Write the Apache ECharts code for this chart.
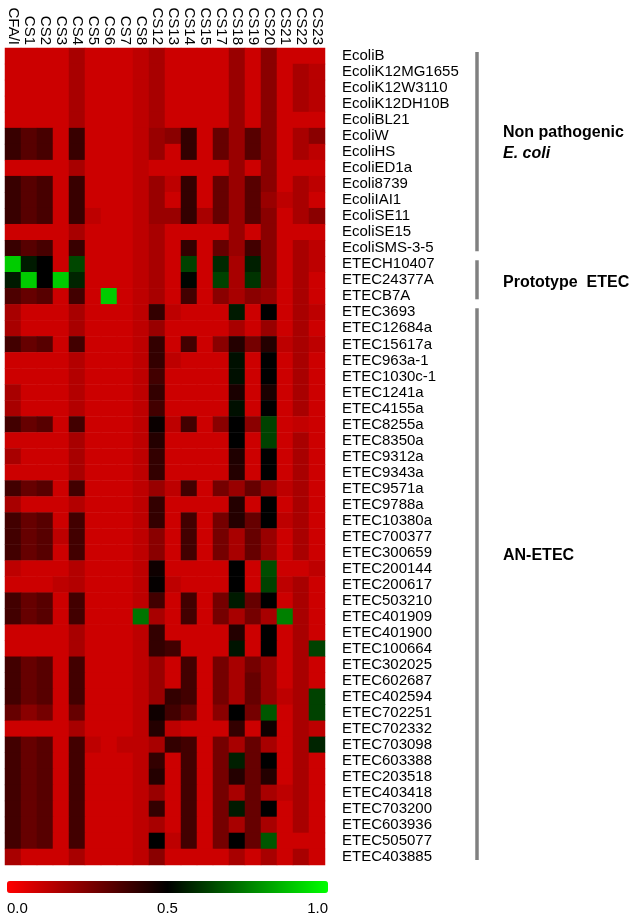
<!DOCTYPE html>
<html>
<head>
<meta charset="utf-8">
<script src="https://cdn.jsdelivr.net/npm/echarts@6/dist/echarts.min.js"></script>
<style>
  html, body { margin: 0; padding: 0; background: #fff; }
  #main { width: 638px; height: 917px; }
</style>
</head>
<body>
<div id="main"></div>
<script>
// colonisation factor columns
var factors = ['CFA/I', 'CS1', 'CS2', 'CS3', 'CS4', 'CS5', 'CS6', 'CS7', 'CS8', 'CS12',
  'CS13', 'CS14', 'CS15', 'CS17', 'CS18', 'CS19', 'CS20', 'CS21', 'CS22', 'CS23'];

var strains = ['EcoliB', 'EcoliK12MG1655', 'EcoliK12W3110', 'EcoliK12DH10B', 'EcoliBL21',
  'EcoliW', 'EcoliHS', 'EcoliED1a', 'Ecoli8739', 'EcoliIAI1', 'EcoliSE11', 'EcoliSE15',
  'EcoliSMS-3-5', 'ETECH10407', 'ETEC24377A', 'ETECB7A', 'ETEC3693', 'ETEC12684a',
  'ETEC15617a', 'ETEC963a-1', 'ETEC1030c-1', 'ETEC1241a', 'ETEC4155a', 'ETEC8255a',
  'ETEC8350a', 'ETEC9312a', 'ETEC9343a', 'ETEC9571a', 'ETEC9788a', 'ETEC10380a',
  'ETEC700377', 'ETEC300659', 'ETEC200144', 'ETEC200617', 'ETEC503210', 'ETEC401909',
  'ETEC401900', 'ETEC100664', 'ETEC302025', 'ETEC602687', 'ETEC402594', 'ETEC702251',
  'ETEC702332', 'ETEC703098', 'ETEC603388', 'ETEC203518', 'ETEC403418', 'ETEC703200',
  'ETEC603936', 'ETEC505077', 'ETEC403885'];

// one row per strain, one value per factor (0 = red, 0.5 = black, 1 = green)
var scores = [
  [.1, .1, .1, .1, .17, .1, .1, .1, .13, .17, .1, .1, .1, .1, .2, .1, .23, .1, .1, .1],
  [.1, .1, .1, .1, .17, .1, .1, .1, .13, .17, .1, .1, .1, .1, .2, .1, .23, .1, .17, .14],
  [.1, .1, .1, .1, .17, .1, .1, .1, .13, .17, .1, .1, .1, .1, .2, .1, .23, .1, .17, .14],
  [.1, .1, .1, .1, .17, .1, .1, .1, .13, .17, .1, .1, .1, .1, .2, .1, .23, .1, .17, .14],
  [.1, .1, .1, .1, .17, .1, .1, .1, .13, .17, .1, .1, .1, .1, .2, .1, .23, .1, .1, .1],
  [.39, .33, .36, .1, .39, .1, .1, .1, .13, .2, .23, .4, .1, .3, .2, .33, .23, .1, .17, .23],
  [.39, .33, .36, .1, .39, .1, .1, .1, .13, .2, .1, .4, .1, .3, .2, .33, .23, .1, .17, .13],
  [.1, .1, .1, .1, .17, .1, .1, .1, .13, .1, .1, .1, .1, .1, .2, .1, .23, .1, .1, .1],
  [.39, .33, .36, .1, .39, .1, .1, .1, .13, .2, .13, .4, .1, .3, .2, .33, .23, .1, .17, .13],
  [.39, .33, .36, .1, .39, .1, .1, .1, .13, .2, .1, .4, .1, .3, .2, .33, .2, .13, .17, .1],
  [.39, .33, .36, .1, .39, .13, .1, .1, .13, .2, .2, .4, .17, .3, .2, .33, .23, .1, .17, .23],
  [.1, .1, .1, .1, .17, .1, .1, .1, .13, .17, .1, .1, .1, .1, .2, .1, .23, .1, .1, .1],
  [.39, .33, .36, .1, .39, .1, .1, .1, .13, .17, .1, .4, .1, .3, .2, .37, .23, .1, .17, .13],
  [.9, .55, .5, .1, .64, .1, .1, .1, .13, .17, .1, .63, .1, .58, .17, .56, .23, .1, .17, .13],
  [.55, .9, .5, .9, .57, .1, .1, .1, .13, .17, .1, .51, .1, .63, .17, .6, .23, .1, .17, .1],
  [.35, .3, .33, .1, .37, .1, .9, .1, .13, .17, .1, .37, .1, .23, .17, .23, .2, .1, .17, .1],
  [.17, .1, .1, .1, .17, .1, .1, .1, .13, .4, .13, .1, .1, .1, .55, .1, .5, .1, .17, .13],
  [.17, .1, .1, .1, .17, .1, .1, .1, .13, .2, .1, .1, .1, .1, .17, .1, .2, .1, .17, .1],
  [.37, .3, .33, .1, .37, .1, .1, .1, .13, .4, .1, .37, .1, .23, .43, .27, .43, .13, .17, .13],
  [.1, .1, .1, .1, .15, .1, .1, .1, .13, .4, .13, .1, .1, .1, .53, .1, .5, .1, .17, .1],
  [.1, .1, .1, .1, .15, .1, .1, .1, .13, .37, .1, .1, .1, .1, .53, .1, .5, .1, .17, .1],
  [.17, .1, .1, .1, .15, .1, .1, .1, .13, .4, .1, .1, .1, .1, .45, .1, .45, .1, .17, .1],
  [.17, .1, .1, .1, .15, .1, .1, .1, .13, .37, .1, .1, .1, .1, .53, .1, .5, .1, .17, .1],
  [.37, .3, .33, .1, .37, .1, .1, .1, .13, .48, .13, .37, .1, .23, .5, .23, .63, .1, .12, .1],
  [.1, .1, .1, .1, .17, .1, .1, .1, .13, .43, .1, .1, .1, .1, .5, .1, .63, .1, .17, .1],
  [.17, .1, .1, .1, .17, .1, .1, .1, .13, .4, .1, .1, .1, .1, .44, .1, .5, .1, .17, .1],
  [.1, .1, .1, .1, .17, .1, .1, .1, .13, .4, .1, .1, .1, .1, .43, .1, .5, .1, .17, .1],
  [.37, .3, .33, .1, .37, .1, .1, .1, .13, .2, .13, .37, .1, .27, .2, .3, .2, .13, .17, .1],
  [.17, .1, .1, .1, .15, .1, .1, .1, .13, .4, .1, .1, .1, .1, .43, .1, .5, .1, .17, .1],
  [.37, .3, .33, .1, .37, .1, .1, .1, .13, .4, .1, .37, .1, .27, .43, .3, .5, .13, .17, .1],
  [.37, .3, .33, .13, .37, .1, .1, .1, .13, .23, .1, .37, .1, .27, .17, .3, .2, .1, .17, .1],
  [.37, .3, .33, .1, .37, .1, .1, .1, .13, .23, .1, .37, .1, .27, .17, .3, .2, .1, .17, .1],
  [.13, .1, .1, .1, .15, .1, .1, .1, .13, .47, .1, .1, .1, .1, .5, .1, .65, .1, .1, .13],
  [.1, .1, .1, .13, .15, .1, .1, .1, .13, .49, .13, .1, .1, .1, .5, .1, .63, .13, .17, .1],
  [.37, .3, .33, .1, .37, .1, .1, .1, .13, .37, .1, .37, .1, .27, .55, .3, .5, .1, .17, .1],
  [.37, .3, .33, .1, .37, .1, .1, .1, .73, .17, .1, .37, .1, .27, .17, .27, .17, .75, .17, .1],
  [.1, .1, .1, .1, .17, .1, .1, .1, .13, .4, .1, .1, .1, .1, .43, .1, .5, .1, .17, .1],
  [.1, .1, .1, .1, .17, .1, .1, .1, .13, .4, .37, .1, .1, .1, .54, .1, .5, .1, .17, .63],
  [.37, .3, .33, .1, .37, .1, .1, .1, .13, .2, .1, .37, .1, .27, .17, .27, .2, .1, .17, .1],
  [.37, .3, .33, .1, .37, .1, .1, .1, .13, .2, .1, .37, .1, .27, .17, .3, .2, .1, .17, .1],
  [.37, .3, .33, .1, .37, .1, .1, .1, .13, .2, .4, .37, .1, .27, .17, .3, .2, .13, .17, .63],
  [.3, .23, .27, .1, .3, .1, .1, .1, .13, .47, .37, .3, .1, .23, .5, .27, .67, .1, .17, .63],
  [.1, .1, .1, .1, .17, .1, .1, .1, .13, .43, .13, .1, .1, .1, .4, .1, .47, .1, .17, .13],
  [.37, .3, .33, .1, .37, .13, .1, .13, .13, .17, .4, .37, .1, .27, .17, .3, .17, .1, .17, .57],
  [.37, .3, .33, .1, .37, .1, .1, .1, .13, .4, .1, .37, .1, .27, .56, .3, .5, .1, .17, .1],
  [.37, .3, .33, .1, .37, .1, .1, .1, .13, .43, .1, .37, .1, .27, .43, .3, .43, .1, .17, .1],
  [.37, .3, .33, .1, .37, .1, .1, .1, .13, .2, .1, .37, .1, .27, .17, .3, .17, .13, .17, .1],
  [.37, .3, .33, .1, .37, .1, .1, .1, .13, .4, .1, .37, .1, .27, .55, .3, .5, .1, .17, .1],
  [.37, .3, .33, .1, .37, .1, .1, .1, .13, .17, .1, .37, .1, .27, .17, .3, .17, .1, .17, .1],
  [.37, .3, .33, .1, .37, .1, .1, .1, .13, .5, .13, .37, .1, .27, .5, .3, .67, .1, .1, .1],
  [.17, .1, .1, .1, .17, .1, .1, .1, .13, .23, .1, .1, .1, .1, .17, .1, .17, .1, .17, .1]
];

// strain groups shown with the grey brackets on the right
var groupNames = ['Non pathogenic', 'Prototype  ETEC', 'AN-ETEC'];
var groupFirst = ['EcoliB', 'ETECH10407', 'ETEC3693'];
var groupLast = ['EcoliSMS-3-5', 'ETECB7A', 'ETEC403885'];

var scaleTicks = [0, 0.5, 1];

var FONT = 'Liberation Sans, Arial, Helvetica, sans-serif';

var cells = [];
for (var i = 0; i < strains.length; i++) {
  for (var j = 0; j < factors.length; j++) {
    cells.push([j, i, scores[i][j]]);
  }
}

var chart = echarts.init(document.getElementById('main'), null, { renderer: 'canvas' });

chart.setOption({
  animation: false,
  backgroundColor: '#fff',
  textStyle: { fontFamily: FONT },
  grid: [
    { left: 5, top: 48, width: 320, height: 817 },
    // only used to place the colour scale tick labels
    { left: 7, top: 881, width: 321, height: 12 }
  ],
  xAxis: [{
    type: 'category',
    data: factors,
    position: 'top',
    axisLine: { show: false },
    axisTick: { show: false },
    splitLine: { show: false },
    axisLabel: {
      rotate: 90, interval: 0, margin: 3,
      fontSize: 15, color: '#000', fontFamily: FONT
    }
  }, {
    type: 'value',
    gridIndex: 1,
    min: 0, max: 1, interval: 0.5,
    axisLine: { show: false },
    axisTick: { show: false },
    splitLine: { show: false },
    axisLabel: {
      margin: 8, fontSize: 15, color: '#000', fontFamily: FONT,
      alignMinLabel: 'left', alignMaxLabel: 'right',
      formatter: function (v) { return v.toFixed(1); }
    }
  }],
  yAxis: [{
    type: 'category',
    data: strains,
    inverse: true,
    position: 'right',
    axisLine: { show: false },
    axisTick: { show: false },
    splitLine: { show: false },
    axisLabel: {
      interval: 0, margin: 17,
      fontSize: 15, color: '#000', fontFamily: FONT
    }
  }, {
    type: 'value',
    gridIndex: 1,
    show: false
  }],
  visualMap: {
    type: 'continuous',
    seriesIndex: 0,
    min: scaleTicks[0],
    max: scaleTicks[scaleTicks.length - 1],
    orient: 'horizontal',
    left: 7,
    top: 881,
    padding: 0,
    itemWidth: 12,
    itemHeight: 321,
    calculable: false,
    text: null,
    inRange: { color: ['#ff0000', '#000000', '#00ff00'] }
  },
  series: [{
    type: 'heatmap',
    data: cells,
    itemStyle: { borderWidth: 0 },
    emphasis: { disabled: true },
    progressive: 0
  }]
});

// brackets and group names, placed from the strain axis
function rowEdge(name, side) {
  var c = chart.convertToPixel({ yAxisIndex: 0 }, name);
  var band = 817 / strains.length;
  return side < 0 ? c - band / 2 : c + band / 2;
}

var shapes = [];
for (var g = 0; g < groupNames.length; g++) {
  var y0 = rowEdge(groupFirst[g], -1) + 4;
  var y1 = rowEdge(groupLast[g], 1) - 5;
  shapes.push({
    type: 'line',
    shape: { x1: 477, y1: y0, x2: 477, y2: y1 },
    style: { stroke: '#808080', lineWidth: 3.5 }
  });
}

var boldLabel = { fontSize: 16, fontWeight: 'bold', fontFamily: FONT, fill: '#000' };
shapes.push({
  type: 'text', left: 503, top: 125,
  style: {
    text: '{a|' + groupNames[0] + '}\n{b|E. coli}',
    rich: {
      a: { fontSize: 16, fontWeight: 'bold', fontFamily: FONT, lineHeight: 21 },
      b: { fontSize: 16, fontWeight: 'bold', fontStyle: 'italic', fontFamily: FONT, lineHeight: 21 }
    }
  }
});
shapes.push({ type: 'text', left: 503, top: 275, style: Object.assign({ text: groupNames[1] }, boldLabel) });
shapes.push({ type: 'text', left: 503, top: 548, style: Object.assign({ text: groupNames[2] }, boldLabel) });

chart.setOption({ graphic: shapes });
</script>
</body>
</html>
